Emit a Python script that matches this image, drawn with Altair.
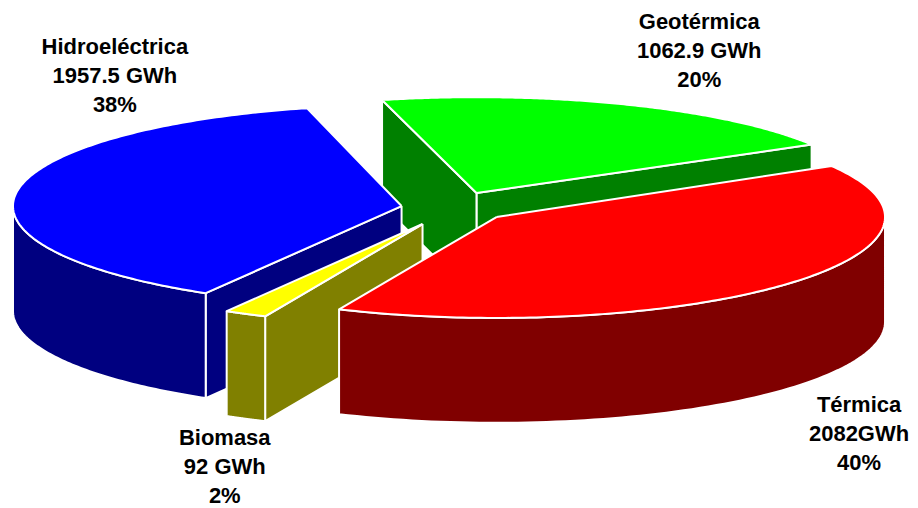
import math
import altair as alt
import pandas as pd

# Chart values
names = ["Térmica", "Biomasa", "Hidroeléctrica", "Geotérmica"]
values = [2082.0, 92.0, 1957.5, 1062.9]
top_colors = ["#ff0000", "#ffff00", "#0000ff", "#00ff00"]
side_colors = ["#800000", "#808000", "#000080", "#008000"]
label_texts = [
    "Térmica\n2082GWh\n40%",
    "Biomasa\n92 GWh\n2%",
    "Hidroeléctrica\n1957.5 GWh\n38%",
    "Geotérmica\n1062.9 GWh\n20%",
]

# Pie geometry: exploded slice centres (x, y, vertical radius), radius and extrusion depth
centers = {
    "Térmica": (497, 217, 101),
    "Biomasa": (423, 224, 101),
    "Hidroeléctrica": (402, 206, 101),
    "Geotérmica": (477, 193, 96),
}
RX, DEPTH = 389, 105
START = 30.4
W, H = 902, 492
label_x = [860, 225, 115, 700]
label_y = [405, 438, 47, 22]

total = sum(values)
spans = {}
a = START
for n, v in zip(names, values):
    b = a - v / total * 360
    spans[n] = (a, b)
    a = b


def rim(name, t):
    cx, cy, ry = centers[name]
    r = math.radians(t)
    return cx + RX * math.cos(r), cy - ry * math.sin(r)


def arc(name, a0, a1, steps=80):
    return [rim(name, a0 + (a1 - a0) * i / steps) for i in range(steps + 1)]


def drop(pts):
    return [(x, y + DEPTH) for x, y in pts]


def poly(pts, fill, sw=2.0):
    pts = list(pts) + [pts[0]]
    df = pd.DataFrame({"x": [p[0] for p in pts], "y": [p[1] for p in pts], "i": range(len(pts))})
    return (
        alt.Chart(df)
        .mark_line(fill=fill, stroke="white", strokeWidth=sw, strokeJoin="round", interpolate="linear")
        .encode(
            x=alt.X("x:Q", scale=alt.Scale(domain=[8, 8 + W]), axis=None),
            y=alt.Y("y:Q", scale=alt.Scale(domain=[8 + H, 8]), axis=None),
            order="i:Q",
        )
    )


def cut_wall(name, angle):
    cx, cy, _ = centers[name]
    p = rim(name, angle)
    return [(cx, cy), p, (p[0], p[1] + DEPTH), (cx, cy + DEPTH)]


def outer_wall(name, a0, a1):
    top_edge = arc(name, a0, a1)
    return top_edge + drop(top_edge)[::-1]


def top(name):
    a0, a1 = spans[name]
    return [centers[name][:2]] + arc(name, a0, a1, 160)


col = dict(zip(names, top_colors))
side = dict(zip(names, side_colors))
layers = []

# Geotérmica (back)
g = "Geotérmica"
layers += [
    poly(cut_wall(g, spans[g][1]), side[g]),
    poly(cut_wall(g, spans[g][0]), side[g]),
    poly(top(g), col[g]),
]
# Hidroeléctrica
h = "Hidroeléctrica"
layers += [
    poly(cut_wall(h, spans[h][0]), side[h]),
    poly(outer_wall(h, -180, spans[h][0]), side[h]),
    poly(top(h), col[h]),
]
# Biomasa
b_ = "Biomasa"
layers += [
    poly(cut_wall(b_, spans[b_][0]), side[b_]),
    poly(outer_wall(b_, spans[b_][1], spans[b_][0]), side[b_]),
    poly(top(b_), col[b_]),
]
# Térmica (front)
t = "Térmica"
layers += [
    poly(outer_wall(t, spans[t][1], 0), side[t]),
    poly(top(t), col[t]),
]

labels = pd.DataFrame({"x": label_x, "y": label_y, "t": label_texts})
layers.append(
    alt.Chart(labels)
    .mark_text(font="Liberation Sans", fontWeight="bold", fontSize=22, lineBreak="\n", lineHeight=29,
               color="black", align="center", baseline="middle")
    .encode(
        x=alt.X("x:Q", scale=alt.Scale(domain=[8, 8 + W]), axis=None),
        y=alt.Y("y:Q", scale=alt.Scale(domain=[8 + H, 8]), axis=None),
        text="t:N",
    )
)

chart = (
    alt.layer(*layers)
    .properties(width=W, height=H, padding=0, background="white")
    .configure_view(stroke=None)
)
chart.save("out.html", embed_options={"renderer": "svg", "actions": False})
